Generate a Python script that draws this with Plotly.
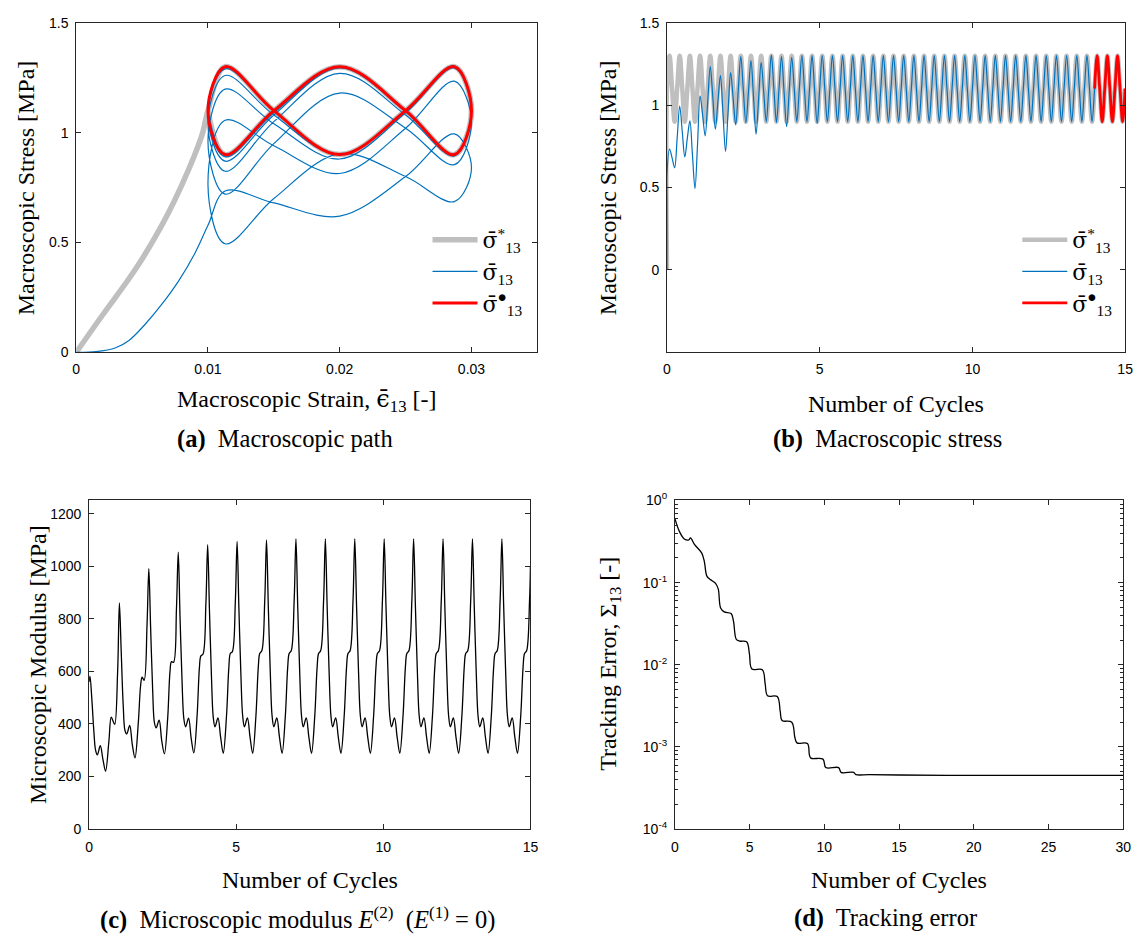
import plotly.graph_objects as go

W, H = 1146, 943
SERIF = "Liberation Serif, Times New Roman, serif"
SANS = "Liberation Sans, Arial, sans-serif"
BLUE = "#0072BD"
GRAY = "#BFBFBF"
RED = "#FF0000"
AXC = "#262626"

# ---------------- (a) and (b): macroscopic stress ----------------
STEPS_PER_CYCLE = 12
N_CYCLES = 15

# strain at every twelfth of a cycle (cyclic path between 0.01 and 0.03)
EPS_CYCLE = [0.0100, 0.0113, 0.0150, 0.0200, 0.0250, 0.0287,
             0.0300, 0.0287, 0.0250, 0.0200, 0.0150, 0.0113]

# prescribed (target) stress over one cycle [MPa]
SIG_STAR_CYCLE = [1.10, 1.30, 1.10, 0.90, 1.10, 1.30,
                  1.10, 0.90, 1.10, 1.30, 1.10, 0.90]

# monotonic pre-loading up to the start of the cyclic path
EPS_LOAD_STAR = [0.0, 0.0020, 0.0040, 0.0050, 0.0060, 0.0070, 0.0080, 0.0090, 0.0096]
SIG_LOAD_STAR = [0.0, 0.17, 0.335, 0.425, 0.525, 0.635, 0.760, 0.900, 1.000]
EPS_LOAD = [0.0, 0.0015, 0.0030, 0.0040, 0.00525, 0.0065, 0.00775, 0.0090]
SIG_LOAD = [0.0, 0.003, 0.021, 0.054, 0.129, 0.219, 0.323, 0.450]

# computed stress, one row per cycle (values at every twelfth of a cycle)
SIG_TRANSIENT = [
    [0.578, 0.734, 0.680, 0.620, 0.800, 0.994, 0.840, 0.686, 0.800, 0.904, 0.700, 0.494],
    [0.760, 1.056, 0.940, 0.814, 1.020, 1.234, 1.050, 0.854, 1.020, 1.180, 0.950, 0.720],
    [0.960, 1.198, 1.040, 0.880, 1.090, 1.294, 1.090, 0.894, 1.080, 1.270, 1.050, 0.824],
    [1.040, 1.260, 1.080, 0.900, 1.100, 1.304, 1.100, 0.896, 1.095, 1.294, 1.080, 0.870],
    [1.080, 1.290, 1.100, 0.900, 1.100, 1.300, 1.100, 0.900, 1.100, 1.300, 1.090, 0.890],
]
SIG_STEADY = [1.10, 1.30, 1.10, 0.90, 1.10, 1.30, 1.10, 0.90, 1.10, 1.30, 1.10, 0.90]
SIG_CYCLES = SIG_TRANSIENT + [SIG_STEADY] * (N_CYCLES - len(SIG_TRANSIENT))
SIG_END = 1.10

# ---------------- (c): microscopic modulus E(2) ----------------
E2_PHASE = [0.03, 0.09, 0.16, 0.22, 0.28, 0.38, 0.47, 0.56, 0.67, 0.75, 0.80, 0.87, 0.97]
E2_START = 560
E2_CYCLES = [
    [582, 500, 375, 300, 282, 317, 265, 220, 330, 426, 415, 398, 600],
    [860, 680, 470, 375, 362, 394, 320, 271, 400, 545, 578, 566, 780],
    [991, 770, 530, 405, 385, 414, 335, 286, 420, 600, 637, 634, 840],
    [1053, 810, 560, 420, 389, 422, 345, 290, 430, 615, 659, 665, 860],
    [1082, 835, 575, 425, 389, 423, 350, 288, 430, 615, 668, 675, 865],
    [1094, 845, 585, 430, 389, 423, 350, 288, 430, 615, 668, 678, 870],
    [1100, 850, 590, 430, 389, 423, 350, 288, 430, 615, 668, 678, 870],
]
E2_STEADY = [1104, 850, 590, 430, 389, 423, 350, 288, 430, 615, 668, 678, 870]
E2_ROWS = E2_CYCLES + [E2_STEADY] * (N_CYCLES - len(E2_CYCLES))
E2_END = 1000

# ---------------- (d): tracking error ----------------
ERR_T = [0.0, 0.30, 0.63, 0.93, 1.04, 1.32, 1.79, 1.97, 2.14, 2.37, 2.72, 2.90,
         3.06, 3.30, 3.76, 3.92, 4.11, 4.34, 4.80, 4.99, 5.15, 5.85, 6.04, 6.20,
         6.85, 7.05, 7.17, 7.82, 8.03, 8.17, 8.87, 9.00, 9.10, 9.91, 10.10, 10.96,
         11.12, 11.96, 12.12, 13.0, 15.0, 20.0, 25.0, 30.0]
ERR_V = [0.60, 0.42, 0.34, 0.33, 0.35, 0.29, 0.23, 0.18, 0.12, 0.109, 0.098, 0.084,
         0.049, 0.044, 0.042, 0.034, 0.0204, 0.0194, 0.019, 0.0135, 0.0089, 0.0087, 0.0059, 0.0042,
         0.0041, 0.0027, 0.0021, 0.0020, 0.0013, 0.00112, 0.0011, 0.0008, 0.00073, 0.00071, 0.00056, 0.00056,
         0.00049, 0.00049, 0.00046, 0.00046, 0.000455, 0.00045, 0.00045, 0.00045]

# ---------------- assemble the series ----------------
t_blue = [0.0] * len(SIG_LOAD)
s_blue = list(SIG_LOAD)
e_blue = list(EPS_LOAD)
for c, row in enumerate(SIG_CYCLES):
    for j, v in enumerate(row):
        t_blue.append(c + j / STEPS_PER_CYCLE)
        s_blue.append(v)
        e_blue.append(EPS_CYCLE[j])
t_blue.append(float(N_CYCLES))
s_blue.append(SIG_END)
e_blue.append(EPS_CYCLE[0])

# last cycle of the computed response
last = SIG_CYCLES[-1]
t_red = [N_CYCLES - 1 + j / STEPS_PER_CYCLE for j in range(STEPS_PER_CYCLE)] + [float(N_CYCLES)]
s_red = list(last) + [SIG_END]
e_red = list(EPS_CYCLE) + [EPS_CYCLE[0]]

# target: pre-loading then the periodic path
e_star = EPS_LOAD_STAR + EPS_CYCLE + [EPS_CYCLE[0]]
s_star_a = SIG_LOAD_STAR + SIG_STAR_CYCLE + [SIG_STAR_CYCLE[0]]
t_star = [0.0]
s_star = [0.0]
for c in range(N_CYCLES):
    for j, v in enumerate(SIG_STAR_CYCLE):
        t_star.append(c + j / STEPS_PER_CYCLE)
        s_star.append(v)
t_star.append(float(N_CYCLES))
s_star.append(SIG_STAR_CYCLE[0])

t_e2 = [0.0]
v_e2 = [E2_START]
for c, row in enumerate(E2_ROWS):
    for p, v in zip(E2_PHASE, row):
        t_e2.append(c + p)
        v_e2.append(v)
t_e2.append(float(N_CYCLES))
v_e2.append(E2_END)

BAR_SIGMA = "<span style=\"font-family:DejaVu Serif\">\u03c3\u0304</span>"
BAR_EPS = "<span style=\"font-family:DejaVu Serif\">\u03f5\u0304</span>"
L_STAR = BAR_SIGMA + "<sup>*</sup><sub>13</sub>"
L_SIG = BAR_SIGMA + "<sub>13</sub>"
L_DOT = BAR_SIGMA + "<sup>●</sup><sub>13</sub>"

fig = go.Figure()
# (a)
fig.add_trace(go.Scatter(x=e_star, y=s_star_a, mode="lines", name=L_STAR,
                         line=dict(color=GRAY, width=5.5, shape="spline"),
                         xaxis="x", yaxis="y", legend="legend"))
fig.add_trace(go.Scatter(x=e_blue, y=s_blue, mode="lines", name=L_SIG,
                         line=dict(color=BLUE, width=1.2, shape="spline"),
                         xaxis="x", yaxis="y", legend="legend"))
fig.add_trace(go.Scatter(x=e_red, y=s_red, mode="lines", name=L_DOT,
                         line=dict(color=RED, width=3, shape="spline"),
                         xaxis="x", yaxis="y", legend="legend"))
# (b)
fig.add_trace(go.Scatter(x=t_star, y=s_star, mode="lines", name=L_STAR,
                         line=dict(color=GRAY, width=4.5, shape="spline"),
                         xaxis="x2", yaxis="y2", legend="legend2"))
fig.add_trace(go.Scatter(x=t_blue, y=s_blue, mode="lines", name=L_SIG,
                         line=dict(color=BLUE, width=1.2, shape="spline"),
                         xaxis="x2", yaxis="y2", legend="legend2"))
fig.add_trace(go.Scatter(x=t_red, y=s_red, mode="lines", name=L_DOT,
                         line=dict(color=RED, width=2.8, shape="spline"),
                         xaxis="x2", yaxis="y2", legend="legend2"))
# (c)
fig.add_trace(go.Scatter(x=t_e2, y=v_e2, mode="lines", showlegend=False,
                         line=dict(color="black", width=1.3, shape="spline"),
                         xaxis="x3", yaxis="y3"))
# (d)
fig.add_trace(go.Scatter(x=ERR_T, y=ERR_V, mode="lines", showlegend=False,
                         line=dict(color="black", width=1.3, shape="spline"),
                         xaxis="x4", yaxis="y4"))


def dom_x(a, b):
    return [a / W, b / W]


def dom_y(top, bottom):
    return [1 - bottom / H, 1 - top / H]


def axis(domain, rng, tickvals, anchor, **kw):
    d = dict(domain=domain, range=rng, tickmode="array", tickvals=tickvals,
             ticks="inside", ticklen=5, tickwidth=1, tickcolor=AXC,
             showline=True, linecolor=AXC, linewidth=1, mirror="ticks",
             showgrid=False, zeroline=False, anchor=anchor,
             tickfont=dict(family=SANS, size=14, color="black"))
    d.update(kw)
    return d


AX = dict(x=(73, 539), y=(13, 349))
BX = dict(x=(670, 1133), y=(13, 349))
CX = dict(x=(86, 532), y=(500, 835))
DX = dict(x=(678, 1131), y=(500, 835))

LOG_MAJOR = [1e-4, 1e-3, 1e-2, 1e-1, 1]
LOG_MINOR = [m * 10.0 ** e for e in range(-4, 0) for m in range(2, 10)]
minor_log = dict(tickmode="array", tickvals=LOG_MINOR, ticks="inside",
                 ticklen=3, tickcolor=AXC)

fig.update_layout(
    width=W, height=H, margin=dict(l=0, r=0, t=0, b=0),
    paper_bgcolor="white", plot_bgcolor="white",
    xaxis=axis(dom_x(*AX["x"]), [0, 0.035], [0, 0.01, 0.02, 0.03], "y",
               ticktext=["0", "0.01", "0.02", "0.03"], ticklabelstandoff=4),
    yaxis=axis(dom_y(*AX["y"]), [0, 1.5], [0, 0.5, 1, 1.5], "x",
               ticktext=["0", "0.5", "1", "1.5"], ticklabelstandoff=4),
    xaxis2=axis(dom_x(*BX["x"]), [0, 15], [0, 5, 10, 15], "y2", ticklabelstandoff=4),
    yaxis2=axis(dom_y(*BX["y"]), [-0.5, 1.5], [-0.5, 0, 0.5, 1, 1.5], "x2",
                ticktext=["", "0", "0.5", "1", "1.5"], ticklabelstandoff=4),
    xaxis3=axis(dom_x(*CX["x"]), [0, 15], [0, 5, 10, 15], "y3", ticklabelstandoff=5),
    yaxis3=axis(dom_y(*CX["y"]), [0, 1250], [0, 200, 400, 600, 800, 1000, 1200], "x3",
                ticklabelstandoff=4),
    xaxis4=axis(dom_x(*DX["x"]), [0, 30], [0, 5, 10, 15, 20, 25, 30], "y4", ticklabelstandoff=5),
    yaxis4=axis(dom_y(*DX["y"]), [-4, 0], LOG_MAJOR, "x4", type="log",
                ticktext=["10<sup>-4</sup>", "10<sup>-3</sup>", "10<sup>-2</sup>",
                          "10<sup>-1</sup>", "10<sup>0</sup>"],
                ticklabelstandoff=4, minor=minor_log),
    # right-hand copy of the log axis so the minor ticks appear on both sides
    yaxis5=dict(domain=dom_y(*DX["y"]), range=[-4, 0], type="log", overlaying="y4",
                side="right", anchor="x4", tickmode="array", tickvals=LOG_MAJOR,
                ticks="inside", ticklen=5, tickcolor=AXC, showticklabels=False,
                showline=False, showgrid=False, zeroline=False, minor=minor_log),
    legend=dict(x=428 / W, y=1 - 213 / H, xanchor="left", yanchor="top",
                bgcolor="rgba(0,0,0,0)", font=dict(family=SERIF, size=22, color="black"),
                tracegroupgap=0, itemwidth=45),
    legend2=dict(x=1024 / W, y=1 - 213 / H, xanchor="left", yanchor="top",
                 bgcolor="rgba(0,0,0,0)", font=dict(family=SERIF, size=22, color="black"),
                 tracegroupgap=0, itemwidth=45),
)


def txt(x, y, text, size=24, angle=0):
    fig.add_annotation(x=x / W, y=1 - y / H, xref="paper", yref="paper", text=text,
                       showarrow=False, textangle=angle, xanchor="center", yanchor="middle",
                       font=dict(family=SERIF, size=size, color="black"))


# axis titles
txt(306, 398, "Macroscopic Strain, " + BAR_EPS + "<sub>13</sub> [-]")
txt(22, 181, "Macroscopic Stress [MPa]", angle=-90)
txt(901, 402, "Number of Cycles")
txt(610, 181, "Macroscopic Stress [MPa]", angle=-90)
txt(309, 887, "Number of Cycles")
txt(35, 667, "Microscopic Modulus [MPa]", angle=-90)
txt(904, 887, "Number of Cycles")
txt(613, 667, "Tracking Error, Σ<sub>13</sub> [-]", angle=-90)

# sub-figure captions
txt(284, 437, "<b>(a)</b>  Macroscopic path", size=24.5)
txt(893, 437, "<b>(b)</b>  Macroscopic stress", size=24.5)
txt(297, 926, "<b>(c)</b>  Microscopic modulus <i>E</i><sup>(2)</sup>  (<i>E</i><sup>(1)</sup> = 0)",
    size=24.5)
txt(891, 926, "<b>(d)</b>  Tracking error", size=24.5)

fig.write_html("out.html")
